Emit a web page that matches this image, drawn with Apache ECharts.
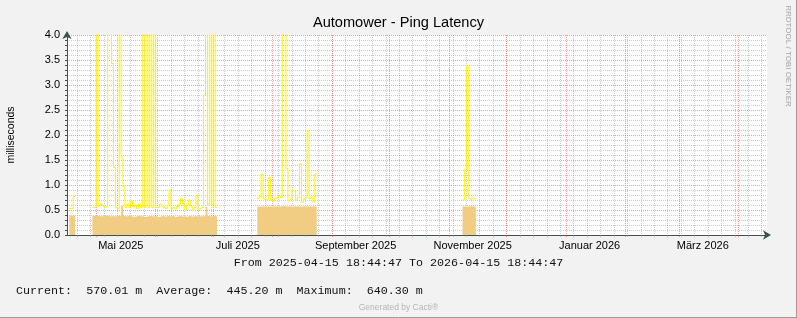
<!DOCTYPE html>
<html><head><meta charset="utf-8">
<script src="https://cdn.jsdelivr.net/npm/echarts@6/dist/echarts.min.js"></script>
<style>html,body{margin:0;padding:0;background:#f2f2f2;overflow:hidden}#c{width:797px;height:318px}</style>
</head><body><div id="c"></div>
<script>
// ---- texts ----
const chartTitle = 'Automower - Ping Latency';
const yAxisName = 'milliseconds';
const rangeText = 'From 2025-04-15 18:44:47 To 2026-04-15 18:44:47';
const legendText = 'Current:  570.01 m  Average:  445.20 m  Maximum:  640.30 m';
const footerText = 'Generated by Cacti®';
const sideText = 'RRDTOOL / TOBI OETIKER';

// ---- axis range & tick labels ----
const rangeStart = '2025-04-15T18:44:47Z';
const rangeEnd = '2026-04-15T18:44:47Z';
const yMin = 0, yMax = 4, yStep = 0.5;
const monthLabels = ['Mai 2025', 'Juli 2025', 'September 2025', 'November 2025', 'Januar 2026', 'März 2026'];
const monthLabelDates = ['2025-05-13T20:00:00Z', '2025-07-13T20:00:00Z', '2025-09-13T07:00:00Z',
                         '2025-11-13T07:00:00Z', '2026-01-13T07:00:00Z', '2026-03-13T07:00:00Z'];

// ---- data: daily values, one array per contiguous segment ----
const segmentStarts = ['2025-04-17', '2025-04-29', '2025-07-24', '2025-11-08'];

const areaSeg1 = [0.39, 0.39, 0.39];
const areaSeg2 = [0.38, 0.39, 0.38, 0.38, 0.37, 0.38, 0.38, 0.39, 0.38, 0.37, 0.38, 0.37, 0.38, 0.38, 0.39, 0.58,
                  0.38, 0.37, 0.38, 0.38, 0.37, 0.36, 0.37, 0.38, 0.38, 0.37, 0.38, 0.36, 0.37, 0.38, 0.38, 0.37,
                  0.38, 0.38, 0.36, 0.37, 0.38, 0.37, 0.36, 0.38, 0.37, 0.38, 0.38, 0.36, 0.37, 0.38, 0.37, 0.37,
                  0.38, 0.36, 0.38, 0.37, 0.37, 0.38, 0.37, 0.38, 0.37, 0.38, 0.37, 0.56, 0.38, 0.37, 0.38, 0.38, 0.37];
const areaSeg3 = [0.57, 0.57, 0.57, 0.57, 0.57, 0.57, 0.57, 0.57, 0.57, 0.57, 0.57, 0.57, 0.57, 0.58, 0.57, 0.57,
                  0.57, 0.57, 0.57, 0.57, 0.57, 0.57, 0.57, 0.57, 0.57, 0.57, 0.57, 0.57, 0.57, 0.57, 0.57];
const areaSeg4 = [0.57, 0.57, 0.57, 0.57, 0.58, 0.57, 0.57];

const pingSeg1 = [0.53, 0.53, 0.77];
const pingSeg2 = [0.55, 0.55, 4.5, 0.58, 0.62, 0.6, 0.56, 0.55, 4.5, 4.5, 3.43, 1.35, 0.55, 0.52, 4.5, 1.54,
                  0.97, 0.55, 0.62, 0.55, 0.68, 0.57, 0.6, 0.53, 0.62, 0.55, 4.5, 0.55, 4.5, 0.55, 4.5, 0.55,
                  4.5, 0.55, 0.55, 0.62, 0.58, 0.55, 0.53, 0.6, 0.9, 0.53, 0.55, 0.52, 0.57, 0.62, 0.73, 0.63,
                  0.5, 0.6, 0.7, 0.58, 0.5, 0.55, 0.8, 0.5, 0.53, 0.55, 2.8, 4.5, 0.6, 4.5, 0.6, 4.5, 0.55];
const pingSeg3 = [0.73, 0.77, 1.22, 0.72, 0.7, 0.72, 1.15, 0.7, 0.68, 0.73, 0.75, 0.78, 0.75, 4.5, 4.5, 1.33,
                  0.68, 0.72, 0.9, 0.88, 0.7, 0.75, 1.43, 0.65, 0.72, 0.75, 2.08, 0.73, 0.75, 0.66, 1.22];
const pingSeg4 = [0.7, 1.3, 3.39, 0.74, 0.72, 0.73, 0.72];

// ---- build (each daily value holds for its whole day, RRD-style steps) ----
const DAY = 86400000;
const tStart = Date.parse(rangeStart), tEnd = Date.parse(rangeEnd);
function build(segs) {
  const out = [];
  segmentStarts.forEach((s, k) => {
    const t0 = Date.parse(s + 'T00:00:00Z');
    const vals = segs[k];
    vals.forEach((v, i) => {
      out.push([t0 + i * DAY, v]);
      out.push([t0 + (i + 1) * DAY, v]);
    });
    out.push([t0 + vals.length * DAY, '-']);
  });
  return out;
}
const areaData = build([areaSeg1, areaSeg2, areaSeg3, areaSeg4]);
const pingData = build([pingSeg1, pingSeg2, pingSeg3, pingSeg4]);

const weekTicks = [];
for (let t = Date.parse('2025-04-21T00:00:00Z'); t < tEnd; t += 7 * DAY) weekTicks.push(t);
const monthTicks = [];
for (let m = 4; m < 16; m++) monthTicks.push(Date.UTC(2025, m, 1));
const labelTimes = monthLabelDates.map(d => Date.parse(d));

const FONT = '"Liberation Sans", Arial, sans-serif';
const MONO = '"Liberation Mono", "DejaVu Sans Mono", monospace';
const axisColor = '#3d5350';
const minorColor = 'rgba(150,150,150,0.5)';
const majorColor = 'rgba(235,60,60,0.5)';

const chart = echarts.init(document.getElementById('c'), null, {renderer: 'canvas'});
chart.setOption({
  animation: false,
  backgroundColor: '#f2f2f2',
  grid: {left: 67, right: 30, top: 35, bottom: 83, show: true, backgroundColor: '#ffffff', borderWidth: 0, containLabel: false, outerBoundsMode: 'none'},
  xAxis: [{
    type: 'value', min: tStart, max: tEnd, position: 'bottom',
    axisLine: {show: true, onZero: false, lineStyle: {color: axisColor, width: 1}, symbol: ['none', 'arrow'], symbolSize: [7, 8], symbolOffset: [0, 4]},
    axisTick: {show: true, customValues: weekTicks, length: 2, lineStyle: {color: minorColor}},
    splitLine: {show: true, lineStyle: {color: minorColor, type: [1, 1], width: 1}},
    axisLabel: {show: false}
  }, {
    type: 'value', min: tStart, max: tEnd, position: 'bottom',
    axisLine: {show: false, onZero: false},
    axisTick: {show: true, customValues: monthTicks, length: 2, lineStyle: {color: majorColor}},
    splitLine: {show: true, lineStyle: {color: majorColor, type: [1, 1], width: 1}},
    axisLabel: {
      show: true, customValues: labelTimes, margin: 5, color: '#000', fontFamily: FONT, fontSize: 11,
      showMinLabel: true, showMaxLabel: true,
      formatter: function (v) {
        let best = 0;
        labelTimes.forEach((t, i) => { if (Math.abs(t - v) < Math.abs(labelTimes[best] - v)) best = i; });
        return monthLabels[best];
      }
    }
  }],
  yAxis: {
    type: 'value', min: yMin, max: yMax, interval: yStep,
    name: yAxisName, nameLocation: 'middle', nameGap: 50, nameRotate: 90,
    nameTextStyle: {fontFamily: FONT, fontSize: 10.5, color: '#000'},
    axisLine: {show: true, onZero: false, lineStyle: {color: axisColor, width: 1}, symbol: ['none', 'arrow'], symbolSize: [7, 8], symbolOffset: [0, 4]},
    axisTick: {show: true, length: 2, lineStyle: {color: axisColor}},
    minorTick: {show: true, splitNumber: 5, length: 2, lineStyle: {color: axisColor}},
    splitLine: {show: true, lineStyle: {color: majorColor, type: [1, 1]}},
    minorSplitLine: {show: true, lineStyle: {color: minorColor, type: [1, 1]}},
    axisLabel: {formatter: v => v.toFixed(1), fontSize: 11, margin: 7, color: '#000', fontFamily: FONT}
  },
  series: [{
    type: 'line', name: 'area', data: areaData, symbol: 'none', showSymbol: false,
    lineStyle: {width: 0, opacity: 0}, areaStyle: {color: '#f1cd84', opacity: 1}, z: 3, silent: true
  }, {
    type: 'line', name: 'ping', data: pingData, symbol: 'none', showSymbol: false,
    lineStyle: {width: 1, color: '#fff200'}, z: 4, silent: true
  }],
  graphic: [
    {type: 'text', x: 398.5, y: 22.6, style: {text: chartTitle, font: '14.6px ' + FONT, fill: '#000', align: 'center', verticalAlign: 'middle', textAlign: 'center', textVerticalAlign: 'middle'}},
    {type: 'text', x: 398.5, y: 263.3, style: {text: rangeText, font: '11.7px ' + MONO, fill: '#111', align: 'center', verticalAlign: 'middle', textAlign: 'center', textVerticalAlign: 'middle'}},
    {type: 'text', x: 16, y: 291, style: {text: legendText, font: '11.7px ' + MONO, fill: '#111', align: 'left', verticalAlign: 'middle', textAlign: 'left', textVerticalAlign: 'middle'}},
    {type: 'text', x: 398.5, y: 307.3, style: {text: footerText, font: '8.5px ' + FONT, fill: '#b5b5b5', align: 'center', verticalAlign: 'middle', textAlign: 'center', textVerticalAlign: 'middle'}},
    {type: 'text', x: 788.5, y: 56, rotation: -Math.PI / 2, style: {text: sideText, font: '8px ' + FONT, fill: '#a5a5a5', align: 'center', verticalAlign: 'middle', textAlign: 'center', textVerticalAlign: 'middle'}},
    {type: 'line', shape: {x1: 0, y1: 317.5, x2: 797, y2: 317.5}, style: {stroke: '#9c9c9c', lineWidth: 1}},
    {type: 'line', shape: {x1: 796.5, y1: 0, x2: 796.5, y2: 318}, style: {stroke: '#9c9c9c', lineWidth: 1}}
  ]
});

// Daily steps are ~1.9px wide; ECharts' line/area shapes skip segments under 2px,
// which turns the steps into slants. Lower that threshold (must stay > 0 so the
// path proxy recomputes its unit) and repaint.
try {
  const zr = chart.getZr();
  const fix = el => {
    if (el && el.segmentIgnoreThreshold) {
      el.segmentIgnoreThreshold = 0.001;
      if (el.path) { try { el.path._ux = 0; el.path._uy = 0; } catch (e) {} }
      if (el.dirtyShape) el.dirtyShape();
      if (el.dirty) el.dirty();
    }
  };
  let list = [];
  try { list = zr.storage.getDisplayList(true); } catch (e) { list = []; }
  list.forEach(fix);
  if (zr.storage.traverse) { try { zr.storage.traverse(fix); } catch (e) {} }
  zr.refreshImmediately();
} catch (e) {}
</script></body></html>
